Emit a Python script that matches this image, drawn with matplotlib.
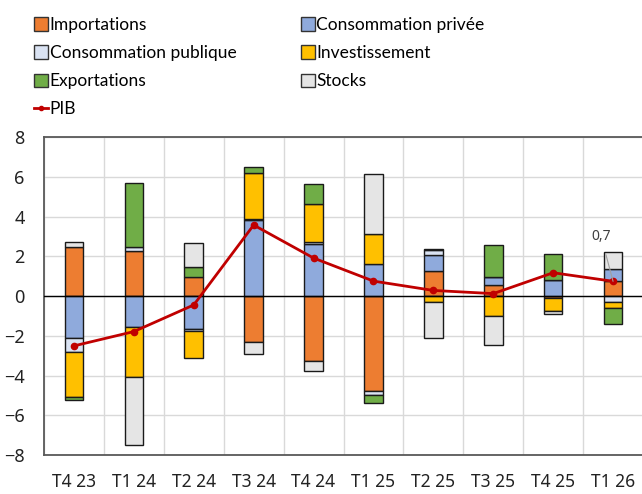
import numpy as np
import matplotlib
matplotlib.use("Agg")
import matplotlib.pyplot as plt
from matplotlib.patches import Patch
from matplotlib.lines import Line2D

categories = ["T4 23", "T1 24", "T2 24", "T3 24", "T4 24",
              "T1 25", "T2 25", "T3 25", "T4 25", "T1 26"]
importations = [2.46, 2.26, 0.94, -2.31, -3.25, -4.76, 1.24, 0.53, -0.10, 0.75]
conso_privee = [-2.13, -1.54, -1.64, 3.82, 2.61, 1.61, 0.80, 0.42, 0.80, 0.60]
conso_publique = [-0.67, 0.22, -0.12, 0.03, 0.12, -0.22, 0.25, 0.0, 0.0, -0.30]
investissement = [-2.29, -2.55, -1.34, 2.36, 1.89, 1.49, -0.32, -1.02, -0.64, -0.32]
exportations = [-0.13, 3.22, 0.52, 0.27, 1.04, -0.39, 0.08, 1.64, 1.29, -0.79]
stocks = [0.25, -3.40, 1.19, -0.62, -0.50, 3.02, -1.79, -1.46, -0.15, 0.84]
pib = [-2.51, -1.79, -0.45, 3.57, 1.91, 0.75, 0.28, 0.12, 1.17, 0.74]
pib_label = "0,7"

series = [
    ("Importations", importations, "#ED7D31"),
    ("Consommation privée", conso_privee, "#8FAADC"),
    ("Consommation publique", conso_publique, "#DAE3F3"),
    ("Investissement", investissement, "#FFC000"),
    ("Exportations", exportations, "#70AD47"),
    ("Stocks", stocks, "#E5E5E5"),
]

W, H = 642, 494
fig = plt.figure(figsize=(W / 100, H / 100), dpi=100)
ax = fig.add_axes([44 / W, (H - 455) / H, 599 / W, (455 - 137) / H])

x = np.arange(len(categories))
pos_bottom = np.zeros(len(x))
neg_bottom = np.zeros(len(x))
for name, vals, col in series:
    v = np.array(vals, dtype=float)
    bottom = np.where(v >= 0, pos_bottom, neg_bottom)
    ax.bar(x, v, width=0.31, bottom=bottom, color=col, edgecolor="#1a1a1a",
           linewidth=1.0, zorder=3)
    pos_bottom = pos_bottom + np.where(v > 0, v, 0)
    neg_bottom = neg_bottom + np.where(v < 0, v, 0)

ax.plot(x, pib, color="#C00000", lw=2, marker="o", markersize=4.5, zorder=5)

ax.axhline(0, color="black", lw=1, zorder=4)
ax.annotate(pib_label, xy=(x[-1], pib[-1]), xytext=(x[-1] - 0.2, 3.0),
            ha="center", va="center", fontsize=10, color="#404040",
            family="Noto Sans",
            arrowprops=dict(arrowstyle="-", color="#a0a0a0", lw=0.8,
                            shrinkA=6, shrinkB=0), zorder=6)

ax.set_xlim(-0.5, len(x) - 0.5)
ax.set_ylim(-8, 8)
ax.set_yticks(np.arange(-8, 9, 2))
ax.set_xticks(x)
ax.set_xticklabels(categories)
ax.set_xticks(np.arange(-0.5, len(x), 1), minor=True)
ax.grid(True, axis="y", which="major", color="#d9d9d9", lw=1, zorder=0)
ax.grid(True, axis="x", which="minor", color="#d9d9d9", lw=1, zorder=0)
ax.tick_params(axis="both", which="both", length=0)
ax.tick_params(axis="y", pad=14, labelsize=13, labelcolor="#222222")
ax.tick_params(axis="x", pad=13, labelsize=12.5, labelcolor="#222222")
for lab in ax.get_xticklabels() + ax.get_yticklabels():
    lab.set_family("Noto Sans")
for s in ax.spines.values():
    s.set_color("#595959")
    s.set_linewidth(1.3)

handles = {}
for name, vals, col in series:
    handles[name] = Patch(facecolor=col, edgecolor="#333333", lw=1.0)
handles["PIB"] = Line2D([], [], color="#C00000", lw=2, marker="o", markersize=3)
order = ["Importations", "Consommation publique", "Exportations", "PIB",
         "Consommation privée", "Investissement", "Stocks"]
fig.legend([handles[n] for n in order], order, loc="upper left",
           bbox_to_anchor=(34 / W, 1 - 17 / H), ncol=2, frameon=False,
           borderpad=0, borderaxespad=0, handlelength=0.8, handleheight=0.8,
           handletextpad=0.1, labelspacing=0.7, columnspacing=3.7,
           prop={"family": "Lato", "size": 12.5})

fig.savefig("out.png", dpi=100)
